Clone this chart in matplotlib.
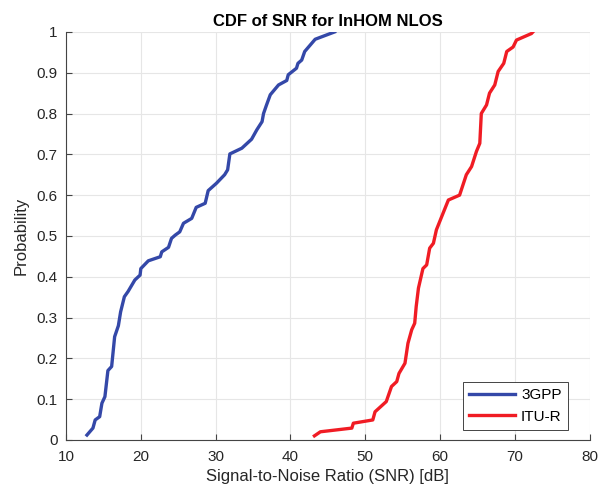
import numpy as np
import matplotlib as mpl
mpl.use("Agg")
import matplotlib.pyplot as plt

# SNR values [dB] and cumulative probability
snr_3gpp = [12.8, 13.6, 13.9, 14.5, 14.8, 15.2, 15.6, 16.1, 16.5, 17.0, 17.3, 17.8,
            18.3, 19.2, 19.9, 20.0, 21.0, 22.6, 22.8, 23.7, 24.1, 24.6, 25.2, 25.7,
            26.8, 27.4, 28.6, 29.0, 30.1, 31.2, 31.6, 31.9, 33.5, 34.8, 35.5, 36.2,
            36.4, 36.8, 37.3, 38.4, 39.5, 39.7, 40.8, 41.0, 41.5, 41.9, 43.3, 45.9]
p_3gpp = [0.012, 0.029, 0.049, 0.057, 0.090, 0.106, 0.170, 0.180, 0.253, 0.280, 0.314, 0.351,
          0.364, 0.392, 0.404, 0.420, 0.439, 0.449, 0.461, 0.472, 0.494, 0.502, 0.510, 0.531,
          0.543, 0.570, 0.580, 0.611, 0.629, 0.650, 0.662, 0.701, 0.715, 0.737, 0.760, 0.780,
          0.800, 0.821, 0.846, 0.870, 0.881, 0.895, 0.911, 0.923, 0.931, 0.952, 0.982, 1.000]

snr_itu = [43.2, 44.0, 48.2, 48.4, 51.0, 51.3, 52.8, 53.5, 54.2, 54.5, 55.3, 55.7,
           56.2, 56.6, 56.8, 57.1, 57.5, 57.7, 58.2, 58.6, 59.1, 59.5, 60.2, 61.1,
           62.6, 63.5, 64.2, 64.85, 65.3, 65.5, 66.2, 66.6, 67.3, 67.75, 68.5, 68.9,
           69.75, 70.2, 72.2, 72.4]
p_itu = [0.010, 0.020, 0.029, 0.041, 0.049, 0.069, 0.094, 0.131, 0.143, 0.163, 0.188, 0.237,
         0.270, 0.286, 0.327, 0.372, 0.404, 0.420, 0.429, 0.470, 0.482, 0.515, 0.547, 0.588,
         0.600, 0.650, 0.670, 0.707, 0.727, 0.800, 0.821, 0.850, 0.870, 0.903, 0.923, 0.952,
         0.963, 0.980, 0.996, 1.000]

plt.rcParams['font.family'] = ['Liberation Sans', 'DejaVu Sans']

fig = plt.figure(figsize=(6, 4.91), dpi=100)
ax = fig.add_axes([0.11, 0.104, 0.873, 0.831])

ax.plot(snr_3gpp, p_3gpp, color='#3448a8', lw=2.4, label='3GPP')
ax.plot(snr_itu, p_itu, color='#f01c24', lw=2.4, label='ITU-R')

ax.set_xlim(10, 80)
ax.set_ylim(0, 1)
ax.set_xticks(np.arange(10, 81, 10))
ax.set_yticks(np.arange(0, 1.01, 0.1))
ax.set_yticklabels(['0', '0.1', '0.2', '0.3', '0.4', '0.5', '0.6', '0.7', '0.8', '0.9', '1'])
ax.grid(True, color='#e6e6e6', lw=0.8)
ax.set_axisbelow(True)
for s in ['top', 'right']:
    ax.spines[s].set_visible(False)
for s in ['left', 'bottom']:
    ax.spines[s].set_color('#444444')
ax.tick_params(direction='in', length=4, colors='#444444', labelcolor='#262626', labelsize=11)
ax.tick_params(axis='x', pad=7)
ax.tick_params(axis='y', pad=6)

ax.set_xlabel('Signal-to-Noise Ratio (SNR) [dB]', fontsize=12, color='#262626', labelpad=4)
ax.set_ylabel('Probability', fontsize=12, color='#262626', labelpad=6)
ax.set_title('CDF of SNR for InHOM NLOS', fontsize=12, fontweight='bold', pad=4)

leg = ax.legend(loc='lower right', bbox_to_anchor=(0.958, 0.025), borderaxespad=0,
                fontsize=11, fancybox=False, framealpha=1, edgecolor='#262626',
                handlelength=3.0, handletextpad=0.4, borderpad=0.4)
leg.get_frame().set_linewidth(0.6)

fig.savefig('out.png', dpi=100)
